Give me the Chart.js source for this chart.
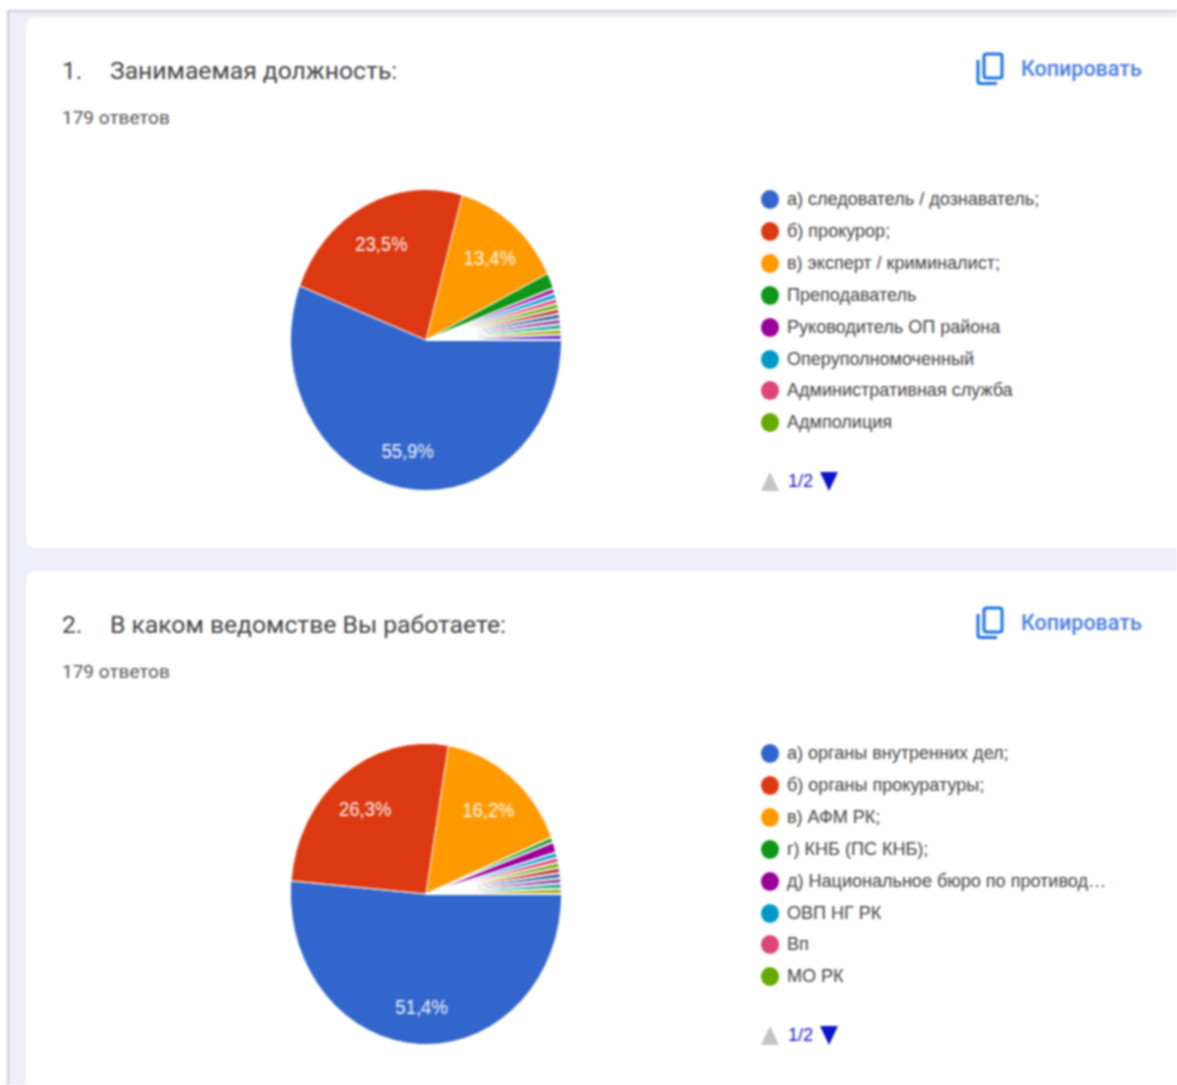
<!DOCTYPE html>
<html lang="ru">
<head>
<meta charset="utf-8">
<title>Результаты опроса</title>
<script src="https://cdn.jsdelivr.net/npm/chart.js@4"></script>
<style>
    html, body { margin: 0; padding: 0; background: #fff; overflow: hidden; }
    #page { position: relative; width: 1177px; height: 1085px; overflow: hidden; filter: blur(0.8px); }
    #back { position: absolute; left: 7px; top: 10px; width: 1170px; height: 1075px; background: #edeefa;
        border-left: 2px solid #c9c9d8; border-top: 2px solid #cfcfdc; box-sizing: border-box; }
    .card { position: absolute; left: 26px; width: 1151px; background: #fff; border-radius: 10px 0 0 10px; }
    .abs { position: absolute; white-space: nowrap; }
    .title { font: 400 24.7px Roboto, sans-serif; color: #444; line-height: 30px; }
    .count { font: 400 19px Roboto, sans-serif; color: #555; line-height: 24px; }
    .copy { font: 500 21.5px Roboto, sans-serif; color: #4a7ee0; line-height: 28px; }
    .legend { font: 400 18.05px "Liberation Sans", Arial, sans-serif; color: #444; line-height: 24px; }
    .dot { position: absolute; width: 18px; height: 19px; border-radius: 50%; }
    .pager { font: 400 18.05px "Liberation Sans", Arial, sans-serif; color: #1a1acc; line-height: 24px; }
    canvas { position: absolute; transform: scaleX(0.9); transform-origin: center; }
</style>
</head>
<body>
<div id="page"><div id="back"></div></div>
<script>
const palette = ["#3366cc", "#dc3912", "#ff9900", "#109618", "#990099", "#0099c6", "#dd4477", "#66aa00",
    "#b82e2e", "#316395", "#994499", "#22aa99", "#aaaa11", "#6633cc"];

const titles = ["Занимаемая должность:", "В каком ведомстве Вы работаете:"];
const numbers = ["1.", "2."];
const answersLabel = "179 ответов";

const positionLabels = ["а) следователь / дознаватель;", "б) прокурор;", "в) эксперт / криминалист;", "Преподаватель",
    "Руководитель ОП района", "Оперуполномоченный", "Административная служба", "Адмполиция"];
const positionValues = [100, 42, 24, 3, 1, 1, 1, 1, 1, 1, 1, 1, 1, 1];

const agencyLabels = ["а) органы внутренних дел;", "б) органы прокуратуры;", "в) АФМ РК;", "г) КНБ (ПС КНБ);",
    "д) Национальное бюро по противод…", "ОВП НГ РК", "Вп", "МО РК"];
const agencyValues = [92, 47, 29, 1, 2, 1, 1, 1, 1, 1, 1, 1, 1];

const page = document.getElementById("page");

function addText(cls, text, x, centerY, height, parent) {
    const el = document.createElement("div");
    el.className = "abs " + cls;
    el.textContent = text;
    el.style.left = x + "px";
    el.style.top = (centerY - height / 2) + "px";
    parent.appendChild(el);
    return el;
}

function addCopyIcon(shift) {
    const ns = "http://www.w3.org/2000/svg";
    const svg = document.createElementNS(ns, "svg");
    svg.setAttribute("width", "30");
    svg.setAttribute("height", "36");
    svg.setAttribute("viewBox", "0 0 30 36");
    svg.style.position = "absolute";
    svg.style.left = "975px";
    svg.style.top = (51 + shift) + "px";
    svg.innerHTML = '<rect x="9" y="3" width="18" height="24" rx="2.5" fill="none" stroke="#1a73e8" stroke-width="3"/>' +
        '<path d="M3 9 V30 a2.5 2.5 0 0 0 2.5 2.5 H22" fill="none" stroke="#1a73e8" stroke-width="3"/>';
    page.appendChild(svg);
}

function addPager(shift) {
    const ns = "http://www.w3.org/2000/svg";
    const svg = document.createElementNS(ns, "svg");
    svg.setAttribute("width", "90");
    svg.setAttribute("height", "24");
    svg.style.position = "absolute";
    svg.style.left = "755px";
    svg.style.top = (469 + shift) + "px";
    svg.innerHTML = '<path d="M6 22 L15 3 L24 22 Z" fill="#c4c4c4"/><path d="M65 3 L83 3 L74 22 Z" fill="#0a14c8"/>';
    page.appendChild(svg);
    addText("pager", "1/2", 788, 481 + shift, 24, page);
}

// white percent labels on the big slices
const sliceLabels = {
    id: "sliceLabels",
    afterDatasetsDraw(chart) {
        const ctx = chart.ctx;
        const values = chart.data.datasets[0].data;
        const total = values.reduce((a, b) => a + b, 0);
        chart.getDatasetMeta(0).data.forEach((arc, i) => {
            const share = values[i] / total * 100;
            if (share < 5) return;
            const mid = (arc.startAngle + arc.endAngle) / 2;
            const r = arc.outerRadius * 0.735;
            ctx.save();
            ctx.fillStyle = "#fff";
            ctx.font = "400 20.5px 'Liberation Sans', Arial, sans-serif";
            ctx.textAlign = "center";
            ctx.textBaseline = "middle";
            ctx.fillText(share.toFixed(1).replace(".", ",") + "%", arc.x + Math.cos(mid) * r, arc.y + Math.sin(mid) * r + 4);
            ctx.restore();
        });
    }
};

function renderSection(index, shift, labels, values) {
    const card = document.createElement("div");
    card.className = "card";
    card.style.top = (17 + shift) + "px";
    card.style.height = "531px";
    page.appendChild(card);

    addText("title", numbers[index], 62, 71 + shift, 30, page);
    addText("title", titles[index], 110, 71 + shift, 30, page);
    addText("count", answersLabel, 62, 118 + shift, 24, page);
    addCopyIcon(shift);
    addText("copy", "Копировать", 1021, 69 + shift, 28, page);

    labels.forEach((label, i) => {
        const rowY = 199 + shift + i * 31.9;
        const dot = document.createElement("div");
        dot.className = "dot";
        dot.style.left = "761px";
        dot.style.top = (rowY - 9) + "px";
        dot.style.background = palette[i];
        page.appendChild(dot);
        addText("legend", label, 787, rowY, 24, page);
    });
    addPager(shift);

    const canvas = document.createElement("canvas");
    canvas.width = 304;
    canvas.height = 304;
    canvas.style.left = "274px";
    canvas.style.top = (188 + shift) + "px";
    page.appendChild(canvas);

    new Chart(canvas.getContext("2d"), {
        type: "pie",
        data: {
            labels: labels,
            datasets: [{
                data: values,
                backgroundColor: palette,
                borderColor: "#fff",
                borderWidth: values.map((v) => (v < 3 ? 1.8 : 1))
            }]
        },
        options: {
            responsive: false,
            animation: false,
            rotation: 90,
            layout: { padding: 0.5 },
            plugins: { legend: { display: false }, tooltip: { enabled: false } }
        },
        plugins: [sliceLabels]
    });
}

renderSection(0, 0, positionLabels, positionValues);
renderSection(1, 554, agencyLabels, agencyValues);
</script>
</body>
</html>
